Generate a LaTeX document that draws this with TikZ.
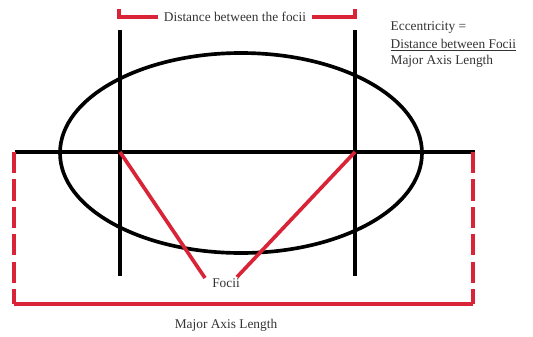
\documentclass[tikz,border=0pt]{standalone}
\usepackage{fontspec}
\setmainfont{Liberation Serif}
\usepackage{xcolor}
\usetikzlibrary{positioning,calc}
\definecolor{AxisRed}{HTML}{D92438}
\definecolor{LabelGrey}{HTML}{333333}

\tikzset{
  blackline/.style={draw=black,line width=2.6pt},
  redline/.style={draw=AxisRed,line width=2.6pt},
  lbl/.style={font=\fontsize{9.5}{11}\selectfont,text=LabelGrey,inner sep=1pt}
}

\begin{document}
\begin{tikzpicture}[x=0.025cm,y=-0.025cm]
 \useasboundingbox (0,0) rectangle (533,336);
 % points
 \coordinate (fl) at (120,152);
 \coordinate (fr) at (355,152);
 \coordinate (al) at (15,152);
 \coordinate (ar) at (475,152);
 \coordinate (bl) at (14,304);
 \coordinate (br) at (473,304);
 % ellipse and axes
 \draw[blackline] (241,153) ellipse (181 and 100);
 \draw[blackline] (al) -- (ar);
 \draw[blackline] (120,30) -- (120,276);
 \draw[blackline] (355,30) -- (355,276);
 % foci
 \node[lbl] (focii) at (226,283) {Focii};
 \draw[redline] (fl) -- (205,278);
 \draw[redline] (fr) -- (237,277);
 % major axis bracket
 \draw[redline,dash pattern=on 15pt off 4.5pt] (14,152) -- (bl);
 \draw[redline,dash pattern=on 15pt off 4.5pt] (473,152) -- (br);
 \draw[redline] (bl) -- (br);
 \node[lbl] (major) at (226,325) {Major Axis Length};
 % distance bracket
 \node[lbl,inner xsep=4pt] (dist) at (235,17) {Distance between the focii};
 \draw[redline] (119,9) |- (dist.west);
 \draw[redline] (355,9) |- (dist.east);
 % formula
 \node[lbl,anchor=west] (ecc) at (389,28) {Eccentricity =};
 \node[lbl,anchor=west] (num) at (389,45) {\underline{Distance between Focii}};
 \node[lbl,anchor=west] (den) at (389,61) {Major Axis Length};
\end{tikzpicture}
\end{document}
